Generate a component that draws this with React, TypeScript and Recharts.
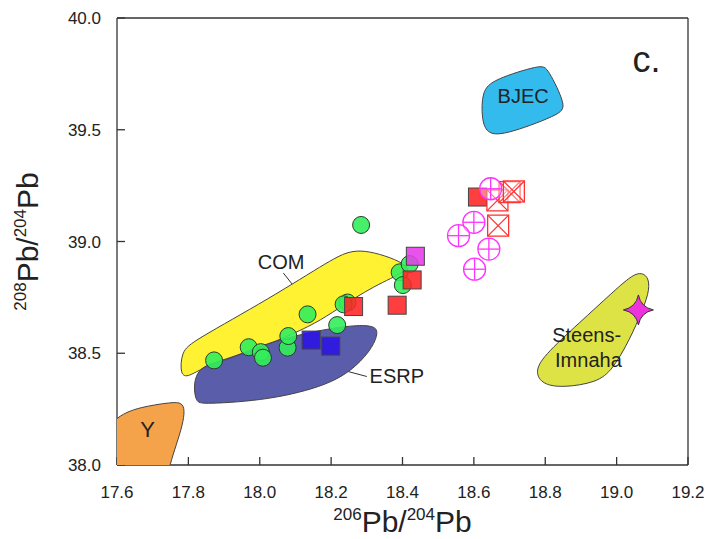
import React from 'react';
import {
  ScatterChart,
  Scatter,
  XAxis,
  YAxis,
  ReferenceDot,
  ReferenceLine,
} from 'recharts';

// 206Pb/204Pb ticks and 208Pb/204Pb ticks
const xTicks = [17.6, 17.8, 18.0, 18.2, 18.4, 18.6, 18.8, 19.0, 19.2];
const yTicks = [38.0, 38.5, 39.0, 39.5, 40.0];

// field outlines (Y runs past the axes and is clipped)
const yField = [
  { x: 17.55, y: 38.12 }, { x: 17.585, y: 38.19 }, { x: 17.615, y: 38.228 },
  { x: 17.662, y: 38.258 }, { x: 17.755, y: 38.282 }, { x: 17.782, y: 38.278 },
  { x: 17.79, y: 38.247 }, { x: 17.784, y: 38.18 }, { x: 17.766, y: 38.09 },
  { x: 17.748, y: 38.0 }, { x: 17.74, y: 37.94 }, { x: 17.55, y: 37.94 },
];
const comField = [
  { x: 17.777, y: 38.4 }, { x: 17.78, y: 38.508 }, { x: 17.814, y: 38.555 },
  { x: 18.027, y: 38.744 }, { x: 18.204, y: 38.923 }, { x: 18.251, y: 38.956 },
  { x: 18.293, y: 38.96 }, { x: 18.35, y: 38.938 }, { x: 18.408, y: 38.9 },
  { x: 18.416, y: 38.868 }, { x: 18.321, y: 38.803 }, { x: 18.215, y: 38.695 },
  { x: 18.159, y: 38.636 }, { x: 18.069, y: 38.569 }, { x: 17.942, y: 38.488 },
  { x: 17.844, y: 38.439 }, { x: 17.8, y: 38.394 },
];
const esrpField = [
  { x: 17.83, y: 38.427 }, { x: 17.814, y: 38.369 }, { x: 17.82, y: 38.281 },
  { x: 17.841, y: 38.272 }, { x: 18.027, y: 38.29 }, { x: 18.195, y: 38.358 },
  { x: 18.272, y: 38.441 }, { x: 18.318, y: 38.53 }, { x: 18.332, y: 38.594 },
  { x: 18.322, y: 38.622 }, { x: 18.271, y: 38.627 }, { x: 18.167, y: 38.604 },
  { x: 18.027, y: 38.55 }, { x: 17.934, y: 38.487 }, { x: 17.858, y: 38.452 },
];
const bjecField = [
  { x: 18.622, y: 39.672 }, { x: 18.654, y: 39.725 }, { x: 18.79, y: 39.792 },
  { x: 18.806, y: 39.777 }, { x: 18.86, y: 39.605 }, { x: 18.841, y: 39.568 },
  { x: 18.678, y: 39.471 }, { x: 18.636, y: 39.486 }, { x: 18.622, y: 39.545 },
];
const steensField = [
  { x: 19.065, y: 38.863 }, { x: 19.088, y: 38.845 }, { x: 19.093, y: 38.787 },
  { x: 19.074, y: 38.697 }, { x: 19.037, y: 38.562 }, { x: 18.989, y: 38.427 },
  { x: 18.945, y: 38.369 }, { x: 18.849, y: 38.346 }, { x: 18.793, y: 38.36 },
  { x: 18.771, y: 38.414 }, { x: 18.793, y: 38.486 }, { x: 18.897, y: 38.638 },
  { x: 18.989, y: 38.773 }, { x: 19.037, y: 38.841 },
];

// samples
const greenCircles = [
  { x: 18.284, y: 39.074 }, { x: 17.872, y: 38.468 }, { x: 17.969, y: 38.527 },
  { x: 18.003, y: 38.505 }, { x: 18.009, y: 38.48 }, { x: 18.078, y: 38.525 },
  { x: 18.08, y: 38.577 }, { x: 18.134, y: 38.674 }, { x: 18.217, y: 38.626 },
  { x: 18.246, y: 38.727 }, { x: 18.235, y: 38.719 }, { x: 18.392, y: 38.862 },
  { x: 18.42, y: 38.899 }, { x: 18.401, y: 38.805 },
];
const blueSquares = [{ x: 18.144, y: 38.559 }, { x: 18.199, y: 38.532 }];
const redSquares = [
  { x: 18.263, y: 38.709 }, { x: 18.385, y: 38.715 }, { x: 18.427, y: 38.828 },
  { x: 18.61, y: 39.199 },
];
const magentaSquares = [{ x: 18.436, y: 38.934 }];
const crossedSquares = [
  { x: 18.666, y: 39.184 }, { x: 18.668, y: 39.071 }, { x: 18.7, y: 39.221 },
  { x: 18.712, y: 39.224 },
];
const crossedCircles = [
  { x: 18.647, y: 39.236 }, { x: 18.6, y: 39.086 }, { x: 18.557, y: 39.026 },
  { x: 18.642, y: 38.966 }, { x: 18.602, y: 38.876 },
];
const starPoints = [{ x: 19.061, y: 38.694 }];

const FONT = '"Liberation Sans", Arial, sans-serif';
const INK = '#333';

const none = () => <g />;

const GreenCircle = ({ cx, cy }: any) => (
  <circle cx={cx} cy={cy} r={8.5} fill="#33ee5a" fillOpacity={0.9} stroke="#2b3b2b" strokeWidth={1} />
);
const makeSquare = (fill: string) => ({ cx, cy }: any) => (
  <rect x={cx - 9} y={cy - 9} width={18} height={18} fill={fill} fillOpacity={0.88} stroke="#444" strokeWidth={1} />
);
const CrossedSquare = ({ cx, cy }: any) => (
  <g stroke="#ff3333" strokeWidth={1.3} fill="none">
    <rect x={cx - 10.5} y={cy - 10.5} width={21} height={21} fill="#fff" fillOpacity={0.35} />
    <line x1={cx - 10.5} y1={cy - 10.5} x2={cx + 10.5} y2={cy + 10.5} />
    <line x1={cx + 10.5} y1={cy - 10.5} x2={cx - 10.5} y2={cy + 10.5} />
  </g>
);
const CrossedCircle = ({ cx, cy }: any) => (
  <g stroke="#ff33ff" strokeWidth={1.3} fill="none">
    <circle cx={cx} cy={cy} r={11} fill="#fff" fillOpacity={0.35} />
    <line x1={cx - 11} y1={cy} x2={cx + 11} y2={cy} />
    <line x1={cx} y1={cy - 11} x2={cx} y2={cy + 11} />
  </g>
);
const Star = ({ cx, cy }: any) => {
  const r = 15;
  const k = 2.5;
  const d = `M${cx},${cy - r} Q${cx + k},${cy - k} ${cx + r},${cy} Q${cx + k},${cy + k} ${cx},${cy + r} Q${cx - k},${cy + k} ${cx - r},${cy} Q${cx - k},${cy - k} ${cx},${cy - r} Z`;
  return <path d={d} fill="#ee33dd" stroke="#333" strokeWidth={1} />;
};

const note = (text: string, size = 20) => ({ cx, cy }: any) => (
  <text x={cx} y={cy} textAnchor="middle" dominantBaseline="central" fontFamily={FONT} fontSize={size} fill="#222">
    {text}
  </text>
);

const XTitle = (props: any) => {
  const { x, y, width } = props.viewBox;
  return (
    <text x={x + width / 2} y={y + 67} textAnchor="middle" fontFamily={FONT} fill="#222">
      <tspan fontSize={17} dy={-12}>206</tspan>
      <tspan fontSize={30} dy={12}>Pb/</tspan>
      <tspan fontSize={17} dy={-12}>204</tspan>
      <tspan fontSize={30} dy={12}>Pb</tspan>
    </text>
  );
};

const YTitle = (props: any) => {
  const { y, height } = props.viewBox;
  const cx = 38;
  const cy = y + height / 2;
  return (
    <text x={cx} y={cy} transform={`rotate(-90 ${cx} ${cy})`} textAnchor="middle" fontFamily={FONT} fill="#222">
      <tspan fontSize={17} dy={-12}>208</tspan>
      <tspan fontSize={30} dy={12}>Pb/</tspan>
      <tspan fontSize={17} dy={-12}>204</tspan>
      <tspan fontSize={30} dy={12}>Pb</tspan>
    </text>
  );
};

const field = (data: any[], fill: string, opacity = 1) => (
  <Scatter
    data={data}
    shape={none}
    line={{ fill, fillOpacity: opacity, stroke: '#444', strokeWidth: 1 }}
    lineJointType="basisClosed"
    isAnimationActive={false}
  />
);

export default function App() {
  const tickStyle = { fontFamily: FONT, fontSize: 17, fill: '#222' };
  return (
    <div style={{ position: 'absolute', left: 0, top: 0, width: 709, height: 539, background: '#fff' }}>
      <ScatterChart width={709} height={539} margin={{ top: 17, right: 20, bottom: 0, left: 0 }}>
        <XAxis
          type="number"
          dataKey="x"
          domain={[17.6, 19.2]}
          ticks={xTicks}
          allowDataOverflow
          height={74}
          tickSize={-8}
          tickMargin={29}
          tick={tickStyle}
          tickFormatter={(v: number) => v.toFixed(1)}
          stroke={INK}
          strokeWidth={1.3}
          label={<XTitle />}
        />
        <XAxis
          xAxisId="top"
          orientation="top"
          type="number"
          dataKey="x"
          domain={[17.6, 19.2]}
          ticks={xTicks}
          allowDataOverflow
          height={1}
          tickSize={-8}
          tick={false}
          stroke={INK}
          strokeWidth={1.3}
        />
        <YAxis
          type="number"
          dataKey="y"
          domain={[38, 40]}
          ticks={yTicks}
          allowDataOverflow
          width={117}
          tickSize={-8}
          tickMargin={24}
          tick={tickStyle}
          tickFormatter={(v: number) => v.toFixed(1)}
          stroke={INK}
          strokeWidth={1.3}
          label={<YTitle />}
        />
        <YAxis
          yAxisId="right"
          orientation="right"
          type="number"
          dataKey="y"
          domain={[38, 40]}
          ticks={yTicks}
          allowDataOverflow
          width={1}
          tickSize={-8}
          tick={false}
          stroke={INK}
          strokeWidth={1.3}
        />

        {field(yField, '#f5a34a')}
        {field(comField, '#fff232')}
        {field(esrpField, '#4b4fa3', 0.92)}
        {field(bjecField, '#33bbee')}
        {field(steensField, '#dde345')}

        <ReferenceLine segment={[{ x: 18.066, y: 38.859 }, { x: 18.096, y: 38.799 }]} stroke={INK} />
        <ReferenceLine segment={[{ x: 18.248, y: 38.418 }, { x: 18.3, y: 38.396 }]} stroke={INK} />
        <ReferenceDot x={18.06} y={38.909} r={0} shape={note('COM')} />
        <ReferenceDot x={18.384} y={38.4} r={0} shape={note('ESRP')} />
        <ReferenceDot x={18.738} y={39.65} r={0} shape={note('BJEC')} />
        <ReferenceDot x={18.916} y={38.582} r={0} shape={note('Steens-')} />
        <ReferenceDot x={18.921} y={38.47} r={0} shape={note('Imnaha')} />
        <ReferenceDot x={17.686} y={38.157} r={0} shape={note('Y', 22)} />
        <ReferenceDot x={19.084} y={39.814} r={0} shape={note('c.', 36)} />

        <Scatter data={greenCircles} shape={GreenCircle} isAnimationActive={false} />
        <Scatter data={blueSquares} shape={makeSquare('#2a12e6')} isAnimationActive={false} />
        <Scatter data={redSquares} shape={makeSquare('#ff2424')} isAnimationActive={false} />
        <Scatter data={magentaSquares} shape={makeSquare('#e53ce8')} isAnimationActive={false} />
        <Scatter data={crossedSquares} shape={CrossedSquare} isAnimationActive={false} />
        <Scatter data={crossedCircles} shape={CrossedCircle} isAnimationActive={false} />
        <Scatter data={starPoints} shape={Star} isAnimationActive={false} />
      </ScatterChart>
    </div>
  );
}
